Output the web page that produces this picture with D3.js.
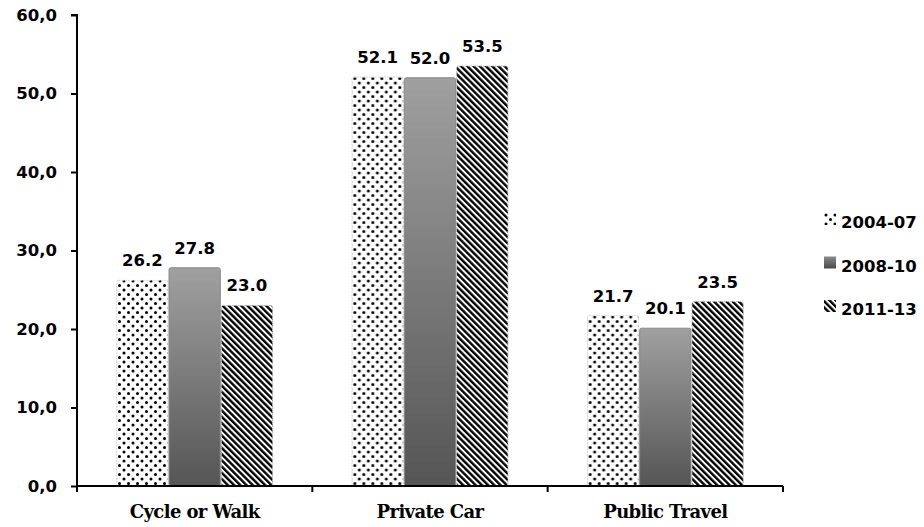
<!DOCTYPE html>
<html>
<head>
<meta charset="utf-8">
<script src="https://cdn.jsdelivr.net/npm/d3@7/dist/d3.min.js"></script>
<style>
  html, body { margin: 0; padding: 0; background: #fff; }
  svg { display: block; }
</style>
</head>
<body>
<svg id="chart" width="924" height="527"></svg>
<script>
// Share of trips by travel mode, three survey periods
const categories = ["Cycle or Walk", "Private Car", "Public Travel"];
const periods = ["2004-07", "2008-10", "2011-13"];
const values2004 = [26.2, 52.1, 21.7];
const values2008 = [27.8, 52.0, 20.1];
const values2011 = [23.0, 53.5, 23.5];
const yTicks = [0, 10, 20, 30, 40, 50, 60];

const seriesValues = [values2004, values2008, values2011];

const svg = d3.select("#chart");
const margin = { left: 77, right: 141, top: 15, bottom: 41 };
const W = 924, H = 527;
const sans = "'DejaVu Sans', Verdana, sans-serif";

const x0 = d3.scaleBand().domain(categories)
  .range([margin.left, W - margin.right]).paddingInner(0).paddingOuter(0);
const x1 = d3.scaleBand().domain(periods)
  .range([0, x0.bandwidth()]).paddingInner(0).paddingOuter(0.75);
const y = d3.scaleLinear().domain([0, 60]).range([H - margin.bottom, margin.top]);

// Fill patterns
const defs = svg.append("defs");
const dots = defs.append("pattern").attr("id", "dots")
  .attr("patternUnits", "userSpaceOnUse").attr("width", 9).attr("height", 9);
dots.append("rect").attr("width", 9).attr("height", 9).attr("fill", "#fff");
dots.append("circle").attr("cx", 2).attr("cy", 2).attr("r", 1.5).attr("fill", "#000");
dots.append("circle").attr("cx", 6.5).attr("cy", 6.5).attr("r", 1.5).attr("fill", "#000");

const hatch = defs.append("pattern").attr("id", "hatch")
  .attr("patternUnits", "userSpaceOnUse").attr("width", 4.4).attr("height", 4.4)
  .attr("patternTransform", "rotate(-45)");
hatch.append("rect").attr("width", 4.4).attr("height", 4.4).attr("fill", "#fff");
hatch.append("rect").attr("width", 2.4).attr("height", 4.4).attr("fill", "#000");

const grad = defs.append("linearGradient").attr("id", "grayGrad")
  .attr("x1", 0).attr("y1", 0).attr("x2", 0).attr("y2", 1);
grad.append("stop").attr("offset", "0%").attr("stop-color", "#a0a0a0");
grad.append("stop").attr("offset", "100%").attr("stop-color", "#555555");

const legGrad = defs.append("linearGradient").attr("id", "legGrad")
  .attr("x1", 0).attr("y1", 0).attr("x2", 0).attr("y2", 1);
legGrad.append("stop").attr("offset", "0%").attr("stop-color", "#8a8a8a");
legGrad.append("stop").attr("offset", "100%").attr("stop-color", "#4a4a4a");

const fills = { "2004-07": "url(#dots)", "2008-10": "url(#grayGrad)", "2011-13": "url(#hatch)" };
const strokes = { "2004-07": "#d8d8d8", "2008-10": "#888", "2011-13": "#bbb" };

// Bars
const groups = svg.append("g").selectAll("g").data(categories).join("g")
  .attr("transform", d => `translate(${x0(d)},0)`);

const rows = (c, i) => periods.map((p, j) => ({ p, v: seriesValues[j][i] }));

groups.selectAll("rect").data(rows).join("rect")
  .attr("x", d => x1(d.p) + 0.5)
  .attr("y", d => y(d.v))
  .attr("width", x1.bandwidth() - 1)
  .attr("height", d => y(0) - y(d.v))
  .attr("rx", 2)
  .attr("fill", d => fills[d.p])
  .attr("stroke", d => strokes[d.p])
  .attr("stroke-width", 1)
  .attr("stroke-dasharray", d => d.p === "2008-10" ? null : "2,1");

// Value labels
groups.selectAll("text").data(rows).join("text")
  .attr("x", d => x1(d.p) + x1.bandwidth() / 2)
  .attr("y", d => y(d.v) - 14)
  .attr("text-anchor", "middle")
  .attr("font-family", sans)
  .attr("font-weight", "bold")
  .attr("font-size", 16.5)
  .attr("fill", "#000")
  .text(d => d.v.toFixed(1));

// Y axis
const yAxis = svg.append("g").attr("transform", `translate(${margin.left},0)`)
  .call(d3.axisLeft(y).tickValues(yTicks).tickSize(6).tickPadding(14)
    .tickFormat(d => d3.format(".1f")(d).replace(".", ",")));
yAxis.select(".domain").attr("stroke", "#000").attr("stroke-width", 2)
  .attr("d", `M-6,${y(60)}H0V${y(0)}`);
yAxis.selectAll(".tick line").attr("stroke", "#000").attr("stroke-width", 2);
yAxis.selectAll(".tick text")
  .attr("font-family", sans)
  .attr("font-weight", "bold").attr("font-size", 16.5).attr("fill", "#000");

// X axis
const xAxis = svg.append("g").attr("transform", `translate(0,${y(0)})`)
  .call(d3.axisBottom(x0).tickSize(0).tickPadding(19));
xAxis.select(".domain").attr("stroke", "#000").attr("stroke-width", 2)
  .attr("d", `M${margin.left},0H${W - margin.right}`);
xAxis.selectAll(".tick text")
  .attr("font-family", "'DejaVu Serif', Georgia, serif")
  .attr("font-weight", "bold").attr("font-size", 18).attr("fill", "#000")
  .attr("letter-spacing", "-0.6");
const bounds = categories.map(c => x0(c)).concat([x0.range()[1]]);
xAxis.selectAll(".btick").data(bounds).join("line").attr("class", "btick")
  .attr("x1", d => d).attr("x2", d => d).attr("y1", 0).attr("y2", 6)
  .attr("stroke", "#000").attr("stroke-width", 2);

// Legend
const legend = svg.append("g").attr("transform", "translate(824,222)");
const li = legend.selectAll("g").data(periods).join("g")
  .attr("transform", (d, i) => `translate(0,${i * 43.5})`);
li.append("rect").attr("x", 0).attr("y", -9).attr("width", 12).attr("height", 12)
  .attr("fill", d => d === "2008-10" ? "url(#legGrad)" : fills[d]);
li.append("text").attr("x", 17).attr("y", 6)
  .attr("font-family", sans)
  .attr("font-weight", "bold").attr("font-size", 16.5).attr("fill", "#000")
  .text(d => d);
</script>
</body>
</html>
